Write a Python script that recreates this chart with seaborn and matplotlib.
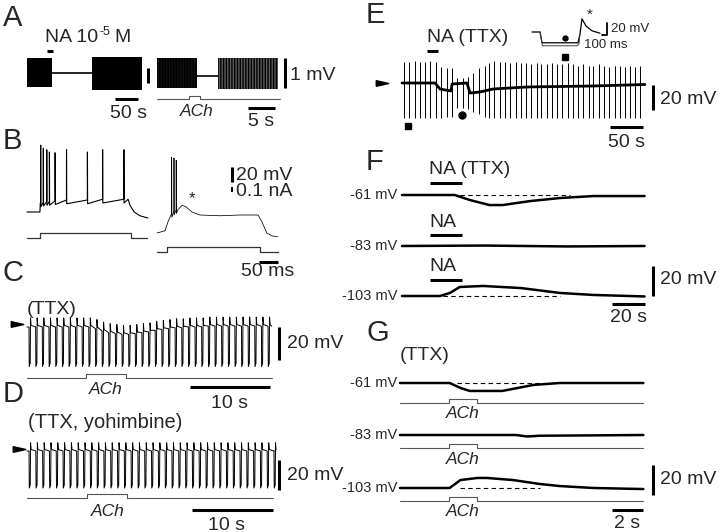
import numpy as np
import matplotlib
matplotlib.use("Agg")
import matplotlib.pyplot as plt
import seaborn as sns

# ==============================
# data (time / mV relative to each trace's rest)
# ==============================
# A: extracellular bursts (t in s, v in mV)
a1_block_t0 = [0, 138]
a1_block_t1 = [53, 245]
a1_block_lo = [-0.47, -0.55]
a1_block_hi = [0.5, 0.53]
a1_gap_t = [53, 138]
a1_gap_v = [0, 0]
a2_block_t0 = [0, 11.3]
a2_block_t1 = [7.4, 22.4]
a2_block_lo = [-0.5, -0.53]
a2_block_hi = [0.5, 0.53]
a2_gap_t = [7.4, 11.3]
a2_gap_v = [-0.08, -0.08]
a2_ach_t = [0, 5.9, 5.9, 7.96, 7.96, 22.8]
a2_ach_v = [-0.85, -0.85, -0.75, -0.75, -0.85, -0.85]

# B: current-clamp responses (t in ms)
b1_base_t = [0, 34, 35, 266, 271, 282, 297, 318]
b1_base_v = [0, 0, 12, 17, 9, 0, -5, -8]
b1_spike_t = [36, 43, 52, 59, 74, 104, 159, 199, 255]
b1_spike_pk = [89, 85, 83, 80, 79, 83, 80, 83, 83]
b1_spike_base = [12, 13, 14, 14, 15, 16, 16, 17, 17]
b1_cur_t = [0, 34, 34, 274, 274, 316]
b1_cur_v = [0, 0, 0.1, 0.1, 0, 0]
b2_base_t = [0, 21, 29, 37, 55, 66, 76, 92, 113, 166, 218, 266, 276, 289, 303, 318]
b2_base_v = [0, 3, 15, 24, 31, 37, 35, 28, 24, 23, 24, 24, 15, 0, -4, -5]
b2_spike_t = [38.6, 44.7, 50.5]
b2_spike_pk = [101, 100, 97]
b2_spike_base = [26, 29, 31]
b2_cur_t = [0, 26, 26, 271, 271, 318]
b2_cur_v = [0, 0, 0.1, 0.1, 0, 0]

# C / D: hyperpolarising test pulses
c_pulse_t = [0.25, 1.08, 1.91, 2.74, 3.57, 4.40, 5.23, 6.06, 6.89, 7.72, 8.55, 9.38,
             10.21, 11.04, 11.87, 12.70, 13.53, 14.36, 15.19, 16.02, 16.85, 17.68,
             18.51, 19.34, 20.17, 21.00, 21.83, 22.66, 23.49, 24.32, 25.15, 25.98,
             26.81, 27.64, 28.47, 29.30, 30.13]
c_pulse_base = [0, 0, 0, 0, 0, 0, 0, 0, 0, 0, -1, -2.5, -3.5, -4, -4.5, -4.5, -4, -3.5,
                -3, -2, -1.5, -1, -0.5, -0.5, 0, 0, 0, 0.5, 0.5, 0.5, 0.5, 0.5, 0.5,
                0.5, 0.5, 0.5, 0.5]
c_bottom = -24
c_ach_t = [0, 7.4, 7.4, 12.4, 12.4, 30.6]
c_ach_v = [-30.9, -30.9, -28.5, -28.5, -30.9, -30.9]
d_pulse_t = [0.25, 1.09, 1.93, 2.77, 3.61, 4.45, 5.29, 6.13, 6.97, 7.81, 8.65, 9.49,
             10.33, 11.17, 12.01, 12.85, 13.69, 14.53, 15.37, 16.21, 17.05, 17.89,
             18.73, 19.57, 20.41, 21.25, 22.09, 22.93, 23.77, 24.61, 25.45, 26.29,
             27.13, 27.97, 28.81, 29.65, 30.49]
d_pulse_base = [0.0] * 37
d_bottom = -24.7
d_ach_t = [0, 7.4, 7.4, 12.3, 12.3, 30.4]
d_ach_v = [-31.3, -31.3, -28.7, -28.7, -31.3, -31.3]

# E: NA in TTX (t in s)
e_base_t = [0, 50, 57.6, 74, 76, 98.5, 103, 118, 138, 189, 289, 368]
e_base_v = [0, 0, -4.8, -6.4, -0.8, 0, -8, -7.2, -4.8, -3.2, -2.4, -1.2]
e_spike_t = [3, 11, 19, 27, 35, 43, 51, 59, 68, 75, 83, 92, 100, 108, 116, 125, 132,
             140, 148, 156, 164, 172, 180, 188, 196, 204, 211, 220, 227, 235, 243, 251,
             259, 267, 274, 283, 290, 298, 306, 314, 322, 330, 338, 345, 353, 361]
e_spike_hi = [17, 17, 18, 17, 17, 18, 17, 13, 12, 12, 4, 4, 5, 8, 12, 14, 16, 18, 17,
              17, 16, 17, 16, 16, 15, 16, 15, 15, 16, 15, 15, 16, 15, 14, 15, 14, 14,
              15, 14, 13, 14, 14, 13, 14, 13, 14]
e_spike_lo = [-28, -28, -28, -28, -28, -28, -28, -28, -27, -27, -20, -20, -21, -23,
              -25, -27, -28, -28, -28, -28, -28, -28, -28, -28, -28, -28, -28, -28,
              -28, -28, -28, -28, -28, -28, -28, -28, -28, -28, -28, -28, -28, -28,
              -28, -28, -28, -28]
# E inset (t in ms)
ins_dot_t = [0, 160, 200, 920, 960, 1000, 1080, 1200, 1360]
ins_dot_v = [0, 0, -18, -18, -3, 22, 10, 2, -2]
ins_sq_t = [160, 210, 900, 940, 960]
ins_sq_v = [0, -23, -23, -20, -3]

# F: NA at three holding potentials (t in s)
f_labels = ["-61 mV", "-83 mV", "-103 mV"]
f1_t = [0, 32, 41, 53, 61, 78, 96, 116, 147]
f1_v = [0, 0, -3.3, -6.7, -6.7, -4, -2, -0.7, -0.7]
f2_t = [0, 50, 100, 147]
f2_v = [0, 0.3, -0.3, 0]
f3_t = [0, 23, 29, 35, 49, 72, 96, 116, 147]
f3_v = [0, 0, 2, 6, 6.7, 5.3, 2, 0.7, -0.3]

# G: ACh at three holding potentials (t in s)
g1_t = [0, 3.2, 3.9, 4.5, 6.6, 8.6, 10.3, 15.7]
g1_v = [0, 0, -3.3, -5.3, -5.3, -1.3, 0, 0]
g2_t = [0, 7.5, 8.2, 9, 15.7]
g2_v = [0, 0, -1, -0.5, 0]
g3_t = [0, 3.2, 3.9, 5, 5.6, 7.3, 9, 10.3, 12.5, 15.7]
g3_v = [0, 0, 5.3, 6.7, 6.7, 5.3, 2.7, 1.3, 0, -0.7]
g_ach_on = [3.16, 4.97]

# ==============================
# figure helpers (pixel layout, 720 x 532)
# ==============================
sns.set_theme(style="white")
plt.rcParams["font.family"] = ["Liberation Sans", "DejaVu Sans"]

W, H = 720, 532
fig = plt.figure(figsize=(7.2, 5.32), dpi=100)
all_axes = []


def trace_ax(x0, y0, px_t, px_v, t_lo, t_hi, v_lo, v_hi):
    left, right = x0 + t_lo * px_t, x0 + t_hi * px_t
    top, bottom = y0 - v_hi * px_v, y0 - v_lo * px_v
    ax = fig.add_axes([left / W, 1 - bottom / H, (right - left) / W, (bottom - top) / H])
    ax.axis("off")
    all_axes.append((ax, (t_lo, t_hi), (v_lo, v_hi)))
    return ax


def txt(x, y, s, size=14, ha="left", **kw):
    fig.text(x / W, 1 - y / H, s, fontsize=size, ha=ha, va="center", **kw)


def line(ax, t, v, lw=1.1, color="black", **kw):
    sns.lineplot(x=t, y=v, ax=ax, sort=False, estimator=None, color=color,
                 lw=lw, legend=False, **kw)


def vbar(ax, t, v0, v1, lw=2.2):
    ax.plot([t, t], [v0, v1], color="black", lw=lw, solid_capstyle="butt", clip_on=False)


def hbar(ax, t0, t1, v, lw=2.2):
    ax.plot([t0, t1], [v, v], color="black", lw=lw, solid_capstyle="butt", clip_on=False)


def spiky(base_t, base_v, spk_t, spk_pk, spk_base):
    pts = list(zip(base_t, base_v))
    for ts, pk, bs in zip(spk_t, spk_pk, spk_base):
        pts += [(ts - 0.2, bs), (ts, pk), (ts + 0.5, bs - 5)]
    pts.sort()
    return [p[0] for p in pts], [p[1] for p in pts]


def pulses(times, bases, bottom, end):
    t, v = [0], [bases[0]]
    for tp, b in zip(times, bases):
        t += [tp, tp + 0.03, tp + 0.15, tp + 0.19, tp + 0.26]
        v += [b, bottom, bottom + 2, b + 5.5, b + 1]
    t.append(end)
    v.append(bases[-1])
    return t, v


arrow = [(-1, -0.45), (1, 0), (-1, 0.45), (-1, -0.45)]

# ==============================
# A
# ==============================
txt(3, 18, "A", size=21)
ax = trace_ax(27, 73, 0.47, 30, -2, 290, -1.0, 0.85)
for t0, t1, lo, hi in zip(a1_block_t0, a1_block_t1, a1_block_lo, a1_block_hi):
    ax.fill_between([t0, t1], [lo, lo], [hi, hi], color="black", lw=0)
line(ax, a1_gap_t, a1_gap_v, lw=1.2)
vbar(ax, 258.5, -0.33, 0.17)
hbar(ax, 43, 55, 0.73)
hbar(ax, 187, 236, -0.87)
txt(45, 38, "NA 10", size=14)
txt(100, 32, "-5", size=9)
txt(114, 38, "M", size=14)
txt(129, 113, "50 s", ha="center")

ax = trace_ax(157, 73.5, 5.4, 30, -0.5, 25, -1.3, 0.7)
ax.fill_between([a2_block_t0[0], a2_block_t1[0]], [a2_block_lo[0]] * 2, [a2_block_hi[0]] * 2,
                facecolor="#111111", edgecolor="black", hatch="||||||", lw=0)
ax.fill_between([a2_block_t0[1], a2_block_t1[1]], [a2_block_lo[1]] * 2, [a2_block_hi[1]] * 2,
                facecolor="#5a5a5a", edgecolor="black", hatch="||||||", lw=0)
line(ax, a2_gap_t, a2_gap_v, lw=1.2)
line(ax, a2_ach_t, a2_ach_v, lw=0.8, color="#555555")
vbar(ax, 23.7, -0.5, 0.5)
hbar(ax, 16.9, 21.9, -1.15)
txt(290, 75, "1 mV")
txt(197, 111, "ACh", size=12.5, ha="center", style="italic")
txt(261, 121, "5 s", ha="center")

# ==============================
# B
# ==============================
txt(3, 141, "B", size=21)
ax = trace_ax(27, 212, 0.38, 0.75, -2, 330, -12, 95)
t, v = spiky(b1_base_t, b1_base_v, b1_spike_t, b1_spike_pk, b1_spike_base)
line(ax, t, v, lw=0.8)
ax = trace_ax(27, 238, 0.38, 50, -2, 330, -0.05, 0.15)
line(ax, b1_cur_t, b1_cur_v, lw=0.9, color="#333333")

ax = trace_ax(157, 233, 0.38, 0.75, -2, 330, -45, 110)
t, v = spiky(b2_base_t, b2_base_v, b2_spike_t, b2_spike_pk, b2_spike_base)
line(ax, t, v, lw=0.55)
vbar(ax, 197, 68, 88)
hbar(ax, 268, 318, -38.7)
ax = trace_ax(157, 252, 0.38, 50, -2, 330, -0.05, 1.4)
line(ax, b2_cur_t, b2_cur_v, lw=0.9, color="#333333")
vbar(ax, 197, 1.2, 1.3, lw=1.5)
txt(192, 199, "*", size=12, ha="center")
txt(236, 175, "20 mV")
txt(236, 191, "0.1 nA")
txt(268, 272, "50 ms", ha="center")

# ==============================
# C
# ==============================
txt(3, 273, "C", size=21)
txt(27, 310, "(TTX)")
ax = trace_ax(27, 327, 8, 1.65, -2, 33, -37, 10)
t, v = pulses(c_pulse_t, c_pulse_base, c_bottom, 30.6)
line(ax, t, v, lw=0.7)
line(ax, c_ach_t, c_ach_v, lw=0.8, color="#555555")
ax.plot([-1.2], [2], marker=arrow, ms=9, color="black", clip_on=False)
vbar(ax, 31.5, -20, 0)
hbar(ax, 20.4, 30.4, -36.4)
txt(287, 344, "20 mV")
txt(106, 390, "ACh", size=12.5, ha="center", style="italic")
txt(230, 403, "10 s", ha="center")

# ==============================
# D
# ==============================
txt(3, 394, "D", size=21)
txt(28, 422, "(TTX, yohimbine)", size=14.5)
ax = trace_ax(27, 451, 8.1, 1.5, -2, 33, -40, 10)
t, v = pulses(d_pulse_t, d_pulse_base, d_bottom, 30.6)
line(ax, t, v, lw=0.7)
line(ax, d_ach_t, d_ach_v, lw=0.8, color="#555555")
ax.plot([-1.0], [1.5], marker=arrow, ms=9, color="black", clip_on=False)
vbar(ax, 31.1, -26, -6)
hbar(ax, 20.4, 30.4, -39.3)
txt(287, 476, "20 mV")
txt(108, 512, "ACh", size=12.5, ha="center", style="italic")
txt(227, 525, "10 s", ha="center")

# ==============================
# E
# ==============================
txt(366, 15, "E", size=21)
txt(427, 38, "NA (TTX)")
ax = trace_ax(402, 83, 0.66, 1.25, -40, 390, -38, 28)
ax.vlines(e_spike_t, e_spike_lo, e_spike_hi, color="black", lw=0.7)
line(ax, e_base_t, e_base_v, lw=2.0)
ax.plot([9], [-34.4], marker="s", ms=5, color="black", clip_on=False)
ax.plot([91], [-25.6], marker="o", ms=5, color="black", clip_on=False)
ax.plot([-30], [0], marker=arrow, ms=9, color="black", clip_on=False)
hbar(ax, 38, 55, 25.6)
vbar(ax, 380, -21.6, -1.6)
hbar(ax, 315, 365, -35.2)
txt(660, 99, "20 mV")
txt(627, 142, "50 s", ha="center")

ax = trace_ax(532, 32, 0.05, 0.6, -20, 1520, -45, 30)
line(ax, ins_dot_t, ins_dot_v, lw=0.9)
line(ax, ins_sq_t, ins_sq_v, lw=0.7, color="#444444")
ax.plot([660], [-10], marker="o", ms=3.5, color="black", clip_on=False)
ax.plot([660], [-41], marker="s", ms=4, color="black", clip_on=False)
ax.plot([1400, 1500, 1500], [-5, -5, 15], color="black", lw=1.3, clip_on=False)
txt(590, 15, "*", size=11, ha="center")
txt(611, 29, "20 mV", size=9.5)
txt(584, 45, "100 ms", size=9.5)

# ==============================
# F
# ==============================
txt(366, 162, "F", size=21)
f_traces = [(f1_t, f1_v), (f2_t, f2_v), (f3_t, f3_v)]
f_y0 = [195, 246, 296]
f_dash = [(35, 102), None, (25, 96)]
f_bar_v = [8, 7.3, 10.7]
f_text = ["NA (TTX)", "NA", "NA"]
for (t, v), y0, dash, bv, lab, nm in zip(f_traces, f_y0, f_dash, f_bar_v, f_labels, f_text):
    ax = trace_ax(402, y0, 1.65, 1.5, -2, 160, -10, 22)
    line(ax, t, v, lw=1.8)
    if dash:
        ax.plot(dash, [0, 0], color="black", lw=0.8, ls=(0, (4, 3)))
    hbar(ax, 17, 36.4, bv)
    txt(397, y0, lab, size=10.5, ha="right")
    txt(429, y0 - bv * 1.5 - 13, nm)
vbar(ax, 152, 0, 20)
hbar(ax, 127, 147, -5.3)
txt(660, 280, "20 mV")
txt(628, 318, "20 s", ha="center")

# ==============================
# G
# ==============================
txt(366, 333, "G", size=21)
txt(400, 356, "(TTX)")
g_traces = [(g1_t, g1_v), (g2_t, g2_v), (g3_t, g3_v)]
g_y0 = [383, 435, 488]
g_dash = [(3.7, 9.5), None, (3.9, 9.0)]
g_ach_y = [-13.3, -8.7, -8.7]
g_ach_txt = [414, 459, 512]
for (t, v), y0, dash, ay, ty, lab in zip(g_traces, g_y0, g_dash, g_ach_y, g_ach_txt, f_labels):
    ax = trace_ax(400, y0, 15.5, 1.5, -0.2, 17, -16, 12)
    line(ax, t, v, lw=1.8)
    if dash:
        ax.plot(dash, [0, 0], color="black", lw=0.8, ls=(0, (4, 3)))
    on, off = g_ach_on
    line(ax, [0, on, on, off, off, 15.7], [ay, ay, ay + 2.7, ay + 2.7, ay, ay],
         lw=0.8, color="#555555")
    txt(397, y0, lab, size=10.5, ha="right")
    txt(463, ty, "ACh", size=12.5, ha="center", style="italic")
vbar(ax, 16.3, -4.7, 15.3)
hbar(ax, 13.7, 15.7, -14.7)
txt(660, 480, "20 mV")
txt(627, 523, "2 s", ha="center")

for ax, xl, yl in all_axes:
    ax.set_xlim(*xl)
    ax.set_ylim(*yl)

fig.savefig("out.png", dpi=100)
